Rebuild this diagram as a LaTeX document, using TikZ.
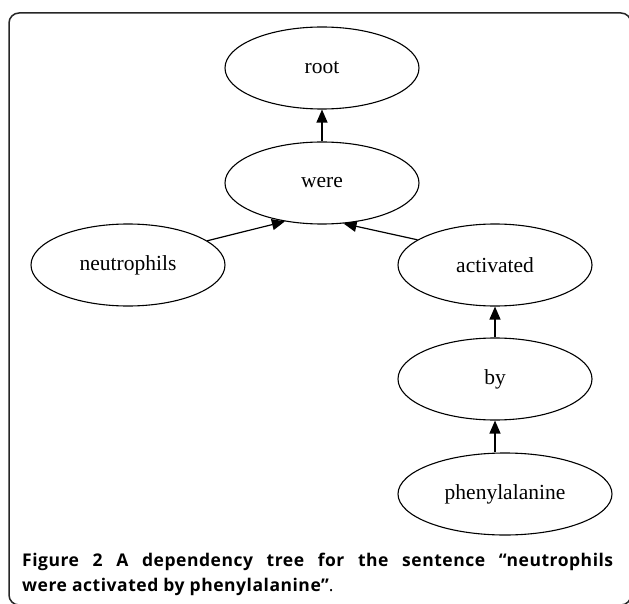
\documentclass[tikz,border=0pt]{standalone}
\usepackage{fontspec}
\setmainfont{Liberation Serif}
\newfontfamily\capfont[LetterSpace=3]{Open Sans}
\usetikzlibrary{shapes.geometric,arrows.meta}
\tikzset{
  word/.style={ellipse,draw,line width=1.1pt,inner sep=0pt,minimum width=194pt,minimum height=82pt,font=\fontsize{21.5}{24}\selectfont},
  dep/.style={-{Triangle[length=13pt,width=11pt]},line width=1.2pt},
  frame/.style={draw=black!85,line width=1.5pt,rounded corners=10pt},
  captext/.style={anchor=base west,inner sep=0pt,font=\capfont\fontsize{17.5}{20}\selectfont}
}
\begin{document}
\begin{tikzpicture}[x=1pt,y=-1pt]
\useasboundingbox (0,0) rectangle (629,604);
\clip (0,0) rectangle (629,604);
\fill[white] (0,0) rectangle (629,604);
\draw[frame] (9,13) rectangle (631,605);
\node[word] (root) at (322,68) {root};
\node[word] (were) at (322,183) {were};
\node[word] (neu) at (128,265) {neutrophils};
\node[word] (act) at (495,265) {activated};
\node[word] (by) at (495,379) {by};
\node[word,minimum width=214pt] (phe) at (505,494) {phenylalanine};
\draw[dep] (were.north) -- (root.south);
\draw[dep] (neu.17) -- (were.226);
\draw[dep] (act.162) -- (were.298);
\draw[dep] (by.north) -- (act.south);
\draw[dep] (by.south |- phe.north) -- (by.south);
\node[captext] (cap1) at (22,566)
  {\makebox[591pt][s]{\bfseries Figure 2 A dependency tree for the sentence “neutrophils}};
\node[captext] (cap2) at (22,591)
  {{\bfseries were activated by phenylalanine”}.};
\end{tikzpicture}
\end{document}
